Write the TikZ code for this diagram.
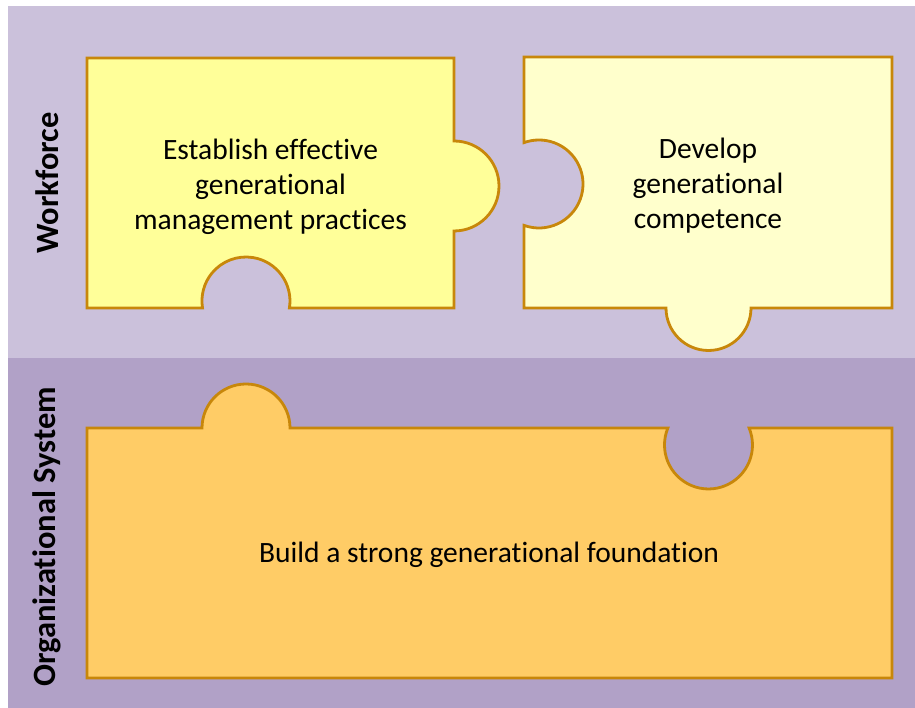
\documentclass[tikz,border=0pt]{standalone}
\usepackage{fontspec}
\setmainfont{Carlito}[Ligatures=NoCommon]
\definecolor{bandtop}{RGB}{203,193,219}
\definecolor{bandbot}{RGB}{177,161,199}
\definecolor{pieceA}{RGB}{255,255,153}
\definecolor{pieceB}{RGB}{255,255,204}
\definecolor{pieceC}{RGB}{255,204,102}
\definecolor{edgecol}{RGB}{200,135,10}
\tikzset{
  piece/.style={draw=edgecol, line width=2.8pt, line join=miter},
  piecetext/.style={align=center, font=\fontsize{29.5}{35}\selectfont, text=black},
  bandlabel/.style={rotate=90, font=\fontsize{32.5}{36}\selectfont\bfseries, text=black}
}
\begin{document}
\begin{tikzpicture}[x=1pt,y=1pt]
\useasboundingbox (0,0) rectangle (915,708);
% bands
\fill[bandtop] (8,350) rectangle (915,702);
\fill[bandbot] (8,0) rectangle (915,350);
% left piece
\draw[piece, fill=pieceA] (87,650) -- (454,650) -- (454,567)
  arc[start angle=90, end angle=-90, radius=45pt] -- (454,400)
  -- (289.4,400) arc[start angle=-9.15, end angle=189.15, radius=44pt]
  -- (87,400) -- cycle;
% right piece
\draw[piece, fill=pieceB] (524,651) -- (892,651) -- (892,400) -- (751,400)
  arc[start angle=0, end angle=-180, radius=42.5pt] -- (524,400)
  -- (523.95,482.65) arc[start angle=-110, end angle=110, radius=44pt]
  -- cycle;
% bottom piece
\draw[piece, fill=pieceC] (87,30) -- (87,280) -- (202,280)
  arc[start angle=180, end angle=0, radius=44pt] -- (667.9,280)
  arc[start angle=157.3, end angle=382.7, radius=44pt] -- (892,280)
  -- (892,30) -- cycle;
% texts
\node[piecetext] (ta) at (270.5,521) {Establish effective\\generational\\management practices};
\node[piecetext] (tb) at (708,522) {Develop\\generational\\competence};
\node[piecetext] (tc) at (489,153) {Build a strong generational foundation};
\node[bandlabel] (lw) at (47,525) {Workforce};
\node[bandlabel] (lo) at (47,171) {Organizational System};
\end{tikzpicture}
\end{document}
